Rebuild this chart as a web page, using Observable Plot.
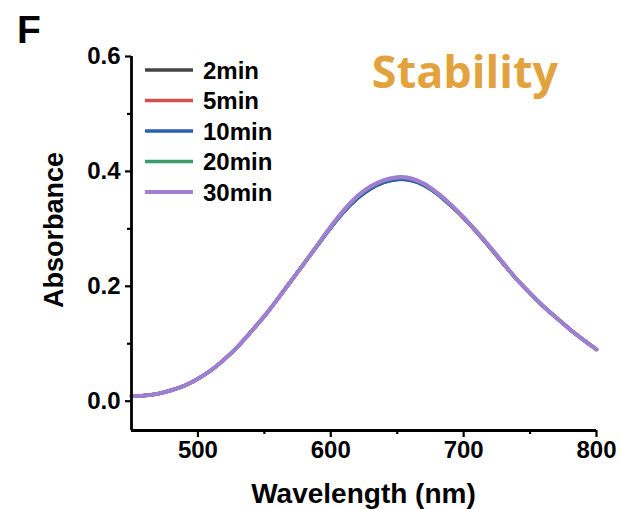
<!DOCTYPE html>
<html>
<head>
<meta charset="utf-8">
<script src="https://cdn.jsdelivr.net/npm/d3@7"></script>
<script src="https://cdn.jsdelivr.net/npm/@observablehq/plot@0.6"></script>
<style>
  html, body { margin: 0; padding: 0; background: #fff; }
  #chart { width: 621px; height: 509px; }
</style>
</head>
<body>
<div id="chart"></div>
<script>
const wavelengths = [450,460,470,480,490,500,510,520,530,540,550,560,570,580,590,600,610,620,630,640,650,660,670,680,690,700,710,720,730,740,750,760,770,780,790,800];

const abs2min  = [0.009,0.010,0.013,0.019,0.027,0.039,0.054,0.073,0.095,0.121,0.148,0.178,0.209,0.240,0.271,0.302,0.330,0.353,0.370,0.381,0.386,0.385,0.376,0.361,0.341,0.319,0.294,0.267,0.239,0.212,0.188,0.165,0.145,0.125,0.107,0.090];
const abs5min  = [0.009,0.010,0.013,0.019,0.027,0.039,0.054,0.073,0.095,0.121,0.148,0.178,0.209,0.240,0.272,0.303,0.331,0.355,0.372,0.383,0.388,0.386,0.377,0.362,0.342,0.319,0.294,0.267,0.239,0.212,0.188,0.165,0.145,0.125,0.107,0.090];
const abs10min = [0.009,0.010,0.013,0.019,0.027,0.039,0.054,0.073,0.095,0.121,0.148,0.178,0.209,0.240,0.271,0.302,0.330,0.353,0.370,0.381,0.386,0.384,0.376,0.361,0.341,0.319,0.294,0.267,0.239,0.212,0.188,0.165,0.145,0.125,0.107,0.090];
const abs20min = [0.009,0.010,0.013,0.019,0.027,0.039,0.054,0.073,0.095,0.121,0.148,0.178,0.209,0.240,0.272,0.303,0.332,0.356,0.373,0.384,0.389,0.387,0.378,0.362,0.342,0.320,0.295,0.268,0.240,0.212,0.188,0.165,0.145,0.125,0.107,0.090];
const abs30min = [0.009,0.010,0.013,0.019,0.027,0.039,0.054,0.073,0.095,0.121,0.148,0.178,0.209,0.240,0.272,0.304,0.333,0.357,0.374,0.385,0.390,0.388,0.379,0.363,0.343,0.320,0.295,0.268,0.240,0.212,0.188,0.165,0.145,0.125,0.107,0.090];

const seriesNames = ["2min","5min","10min","20min","30min"];
const seriesColors = ["#454545","#d0504f","#2d5fb5","#3c9c6c","#a07fd0"];
const seriesValues = [abs2min, abs5min, abs10min, abs20min, abs30min];

const yTicks = [0, 0.2, 0.4, 0.6];
const yMinorTicks = [0.1, 0.3, 0.5];
const xTicks = [500, 600, 700, 800];
const xMinorTicks = [550, 650, 750];
const xDomain = [450, 800];
const yDomain = [-0.051, 0.6];

const panelLetter = "F";
const titleText = "Stability";
const xLabel = "Wavelength (nm)";
const yLabel = "Absorbance";

const rows = [];
seriesNames.forEach((s, i) => {
  wavelengths.forEach((w, j) => rows.push({series: s, wl: w, a: seriesValues[i][j]}));
});

const font = "'Liberation Sans', Arial, sans-serif";
const mL = 131, mT = 56, mR = 25, mB = 79;

const svg = Plot.plot({
  width: 621,
  height: 509,
  marginLeft: mL,
  marginTop: mT,
  marginRight: mR,
  marginBottom: mB,
  style: {fontFamily: font, background: "#fff", color: "#000", overflow: "visible"},
  x: {domain: xDomain},
  y: {domain: yDomain},
  color: {domain: seriesNames, range: seriesColors},
  marks: [
    Plot.line(rows, {x: "wl", y: "a", z: "series", stroke: "series",
      strokeWidth: d => d.series === "30min" ? 4 : 3.5, curve: "natural"}),
    Plot.ruleX([xDomain[0]], {stroke: "#000", strokeWidth: 2.8}),
    Plot.ruleY([yDomain[0]], {stroke: "#000", strokeWidth: 2.8}),
    Plot.axisY({ticks: yTicks, tickFormat: d3.format(".1f"), tickSize: 6, tickPadding: 5,
      fontSize: 24, fontWeight: "bold", label: null, strokeWidth: 2.2, fill: "#000"}),
    Plot.axisY({ticks: yMinorTicks, tickSize: 4, text: null, label: null, strokeWidth: 2.2}),
    Plot.axisX({ticks: xTicks, tickSize: 7, tickPadding: 3,
      fontSize: 24, fontWeight: "bold", label: null, strokeWidth: 2.2, fill: "#000", anchor: "bottom"}),
    Plot.axisX({ticks: xMinorTicks, tickSize: 4, text: null, label: null, strokeWidth: 2.2, anchor: "bottom"})
  ]
});

const s = d3.select(svg);
// annotations
s.append("text").attr("x", 17).attr("y", 43).attr("text-anchor", "start")
  .attr("font-family", font).attr("font-size", 39).attr("font-weight", "bold").attr("fill", "#000")
  .text(panelLetter);
s.append("text").attr("x", 465).attr("y", 88).attr("text-anchor", "middle")
  .attr("font-family", "'Open Sans', 'Noto Sans', sans-serif").attr("font-size", 45)
  .attr("font-weight", "bold").attr("fill", "#e2a33e").text(titleText);
s.append("text").attr("x", mL + (621 - mL - mR) / 2).attr("y", 503).attr("text-anchor", "middle")
  .attr("font-family", font).attr("font-size", 28).attr("font-weight", "bold").attr("fill", "#000")
  .text(xLabel);
s.append("text").attr("transform", "translate(63,230) rotate(-90)").attr("text-anchor", "middle")
  .attr("font-family", font).attr("font-size", 27).attr("font-weight", "bold").attr("fill", "#000")
  .text(yLabel);

// legend
const leg = s.append("g");
seriesNames.forEach((name, i) => {
  const y = mT + 14 + i * 30.5;
  leg.append("line").attr("x1", mL + 14).attr("x2", mL + 62).attr("y1", y).attr("y2", y)
    .attr("stroke", seriesColors[i]).attr("stroke-width", i === 4 ? 4 : 3.5);
  leg.append("text").attr("x", mL + 72).attr("y", y + 8.5).attr("text-anchor", "start")
    .attr("font-size", 24).attr("font-weight", "bold").attr("font-family", font)
    .attr("fill", "#000").text(name);
});

document.getElementById("chart").appendChild(svg);
</script>
</body>
</html>
